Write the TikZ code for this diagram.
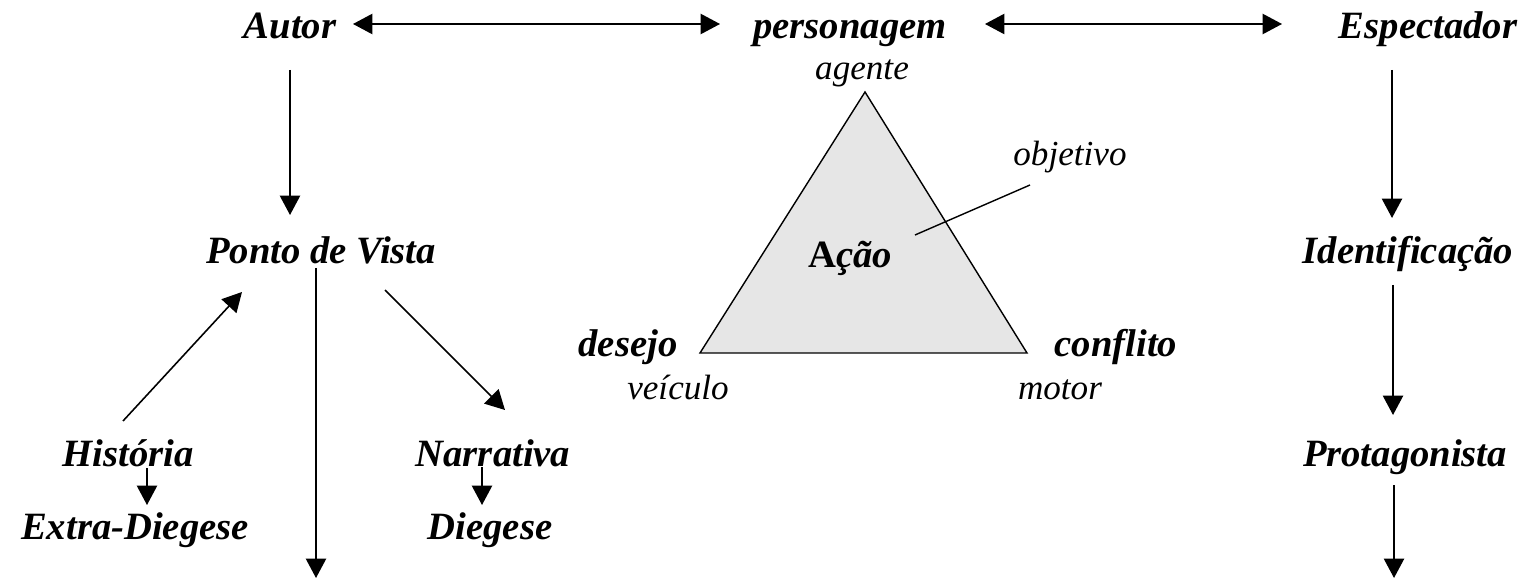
\documentclass[tikz,border=0pt]{standalone}
\usepackage{fontspec}
\setmainfont{Liberation Serif}
\usetikzlibrary{arrows.meta,calc}
\definecolor{trifill}{RGB}{230,230,230}
\begin{document}
\begin{tikzpicture}[x=0.02cm,y=-0.02cm,
  lbl/.style={font=\fontsize{22}{26}\selectfont\bfseries\itshape, inner sep=0pt, anchor=base},
  sml/.style={font=\fontsize{20}{24}\selectfont\itshape, inner sep=0pt, anchor=base},
  arr/.style={line width=0.9pt, -{Triangle[length=11pt,width=11.5pt]}},
  darr/.style={line width=0.9pt, {Triangle[length=11pt,width=11.5pt]}-{Triangle[length=11pt,width=11.5pt]}},
  tri/.style={draw, line width=0.8pt, fill=trifill, line join=miter}]
\useasboundingbox (0,0) rectangle (1530,580);

% top row
\node[lbl] (autor) at (290,39) {Autor};
\node[lbl] (pers) at (850,39) {personagem};
\node[lbl] (espec) at (1428,39) {Espectador};

% left column
\node[lbl] (ponto) at (321,264) {Ponto de Vista};
\node[lbl] (hist) at (128,466) {História};
\node[lbl] (narr) at (493,466) {Narrativa};
\node[lbl] (extra) at (135,539) {Extra-Diegese};
\node[lbl] (dieg) at (490,539) {Diegese};
\coordinate (pvend) at (316,578);

% right column
\node[lbl] (ident) at (1408,264) {Identificação};
\node[lbl] (protag) at (1405,466) {Protagonista};
\coordinate (pend) at (1394,578);

% triangle
\coordinate (tA) at (865,92);
\coordinate (tL) at (700,353);
\coordinate (tR) at (1027,353);
\draw[tri] (tA) -- (tL) -- (tR) -- cycle;
\node[sml] (agente) at (862,80) {agente};
\node[sml] (obj) at (1070,166) {objetivo};
\node[lbl] (acao) at (850,268) {{\bfseries\upshape A}{\bfseries\itshape ção}};
\node[lbl] (desejo) at (628,357) {desejo};
\node[lbl] (confl) at (1116,357) {conflito};
\node[sml] (veic) at (678,399) {veículo};
\node[sml] (motor) at (1060,399) {motor};
\draw[line width=0.8pt] ($(acao.base)+(65,-33)$) -- ($(obj.base)+(-40,19)$);

% connectors
\draw[darr] ($(autor.base)+(63,-15)$) -- ($(pers.base)+(-130,-15)$);
\draw[darr] ($(pers.base)+(135,-15)$) -- ($(espec.base)+(-146,-15)$);
\draw[arr] ($(autor.base)+(0,31)$) -- ($(ponto.base)+(-31,-49)$);
\draw[arr] ($(ponto.base)+(-5,4)$) -- (pvend);
\draw[arr] ($(hist.base)+(-5,-45)$) -- ($(ponto.base)+(-79,28)$);
\draw[arr] ($(ponto.base)+(64,26)$) -- ($(narr.base)+(12,-56)$);
\draw[arr] ($(hist.base)+(19,2)$) -- ($(extra.base)+(12,-34)$);
\draw[arr] ($(narr.base)+(-11,1)$) -- ($(dieg.base)+(-8,-34)$);
\draw[arr] ($(espec.base)+(-36,31)$) -- ($(ident.base)+(-16,-46)$);
\draw[arr] ($(ident.base)+(-15,21)$) -- ($(protag.base)+(-12,-51)$);
\draw[arr] ($(protag.base)+(-11,19)$) -- (pend);
\end{tikzpicture}
\end{document}
